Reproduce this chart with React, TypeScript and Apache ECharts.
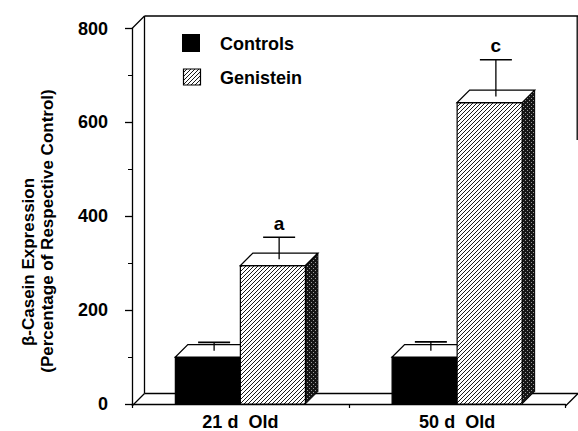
import React, { useEffect, useRef } from "react";
import * as echarts from "echarts";

// ---------- data ----------
const categories = ["21 d  Old", "50 d  Old"];
const seriesNames = ["Controls", "Genistein"];
const controlsValues = [100, 100];
const controlsErrors = [18, 19];
const genisteinValues = [295, 642];
const genisteinErrors = [47, 78];
const genisteinLetters = ["a", "c"];
const yMin = 0;
const yMax = 800;
const yInterval = 200;
const yTitleLine1 = "\u03b2-Casein Expression";
const yTitleLine2 = "(Percentage of Respective Control)";

// ---------- layout ----------
const W = 578;
const H = 431;
const GRID = { left: 132, right: 12.5, top: 28.5, bottom: 25 };
const DEPTH = 12.5;
const FONT = '"Liberation Sans", Arial, Helvetica, sans-serif';

function makeHatch(): string {
  const c = document.createElement("canvas");
  c.width = 4;
  c.height = 4;
  const ctx = c.getContext("2d")!;
  ctx.fillStyle = "#fff";
  ctx.fillRect(0, 0, 4, 4);
  ctx.strokeStyle = "#000";
  ctx.lineWidth = 0.9;
  ctx.beginPath();
  ctx.moveTo(-1, 5);
  ctx.lineTo(5, -1);
  ctx.moveTo(-1, 1);
  ctx.lineTo(1, -1);
  ctx.moveTo(3, 5);
  ctx.lineTo(5, 3);
  ctx.stroke();
  return c.toDataURL();
}

function makeStipple(): string {
  const c = document.createElement("canvas");
  c.width = 4;
  c.height = 4;
  const ctx = c.getContext("2d")!;
  ctx.fillStyle = "#151515";
  ctx.fillRect(0, 0, 4, 4);
  ctx.fillStyle = "#9a9a9a";
  ctx.fillRect(1, 0, 1, 1);
  ctx.fillRect(3, 2, 1, 1);
  return c.toDataURL();
}

export default function App() {
  const ref = useRef<HTMLDivElement>(null);

  useEffect(() => {
    if (!ref.current) return;
    const chart = echarts.init(ref.current, null, { renderer: "svg" });

    const hatch = { image: makeHatch(), repeat: "repeat", imageWidth: 4, imageHeight: 4 };
    const stipple = { image: makeStipple(), repeat: "repeat", imageWidth: 4, imageHeight: 4 };

    const makeRender =
      (side: number, frontFill: any, letters: string[] | null) => (params: any, api: any) => {
        const c = api.value(0);
        const v = api.value(1);
        const e = api.value(2);
        const base = api.coord([c, 0]);
        const top = api.coord([c, v]);
        const errTop = api.coord([c, v + e]);
        const band = api.size([1, 0])[0];
        const bw = band * 0.3;
        const x0 = side === 0 ? base[0] - bw : base[0];
        const x1 = x0 + bw;
        const y0 = base[1];
        const yv = top[1];
        const D = DEPTH;
        const children: any[] = [];
        children.push({
          type: "polygon",
          shape: { points: [[x1, yv], [x1 + D, yv - D], [x1 + D, y0 - D], [x1, y0]] },
          style: { fill: stipple, stroke: "#000", lineWidth: 1 },
        });
        children.push({
          type: "rect",
          shape: { x: x0, y: yv, width: bw, height: y0 - yv },
          style: { fill: frontFill, stroke: "#000", lineWidth: 1.2 },
        });
        children.push({
          type: "polygon",
          shape: { points: [[x0, yv], [x1, yv], [x1 + D, yv - D], [x0 + D, yv - D]] },
          style: { fill: "#fff", stroke: "#000", lineWidth: 1.3 },
        });
        const ex = (x0 + x1) / 2 + D / 2;
        const ey = yv - D / 2;
        const ecap = errTop[1] - D / 2;
        children.push({
          type: "line",
          shape: { x1: ex, y1: ey, x2: ex, y2: ecap },
          style: { stroke: "#000", lineWidth: 1.3 },
        });
        children.push({
          type: "line",
          shape: { x1: ex - 16, y1: ecap, x2: ex + 16, y2: ecap },
          style: { stroke: "#000", lineWidth: 1.6 },
        });
        if (letters && letters[c]) {
          children.push({
            type: "text",
            style: {
              x: ex,
              y: ecap - 14,
              text: letters[c],
              align: "center",
              verticalAlign: "middle",
              font: `bold 19px ${FONT}`,
              fill: "#000",
            },
          });
        }
        return { type: "group", children };
      };

    const L = GRID.left;
    const R = W - GRID.right;
    const T = GRID.top;
    const B = H - GRID.bottom;
    const D = DEPTH;
    const lineStyle = { stroke: "#000", lineWidth: 1.3 };

    const frame = [
      { type: "line", shape: { x1: L, y1: T, x2: L + D, y2: T - D } },
      { type: "line", shape: { x1: L + D, y1: T - D, x2: R + D, y2: T - D } },
      { type: "line", shape: { x1: L + D, y1: T - D, x2: L + D, y2: B - D } },
      { type: "line", shape: { x1: L + D, y1: B - D, x2: R + D, y2: B - D } },
      { type: "line", shape: { x1: L, y1: B, x2: L + D, y2: B - D } },
      { type: "line", shape: { x1: R, y1: B, x2: R + D, y2: B - D } },
      { type: "line", shape: { x1: R + D - 0.8, y1: T - D, x2: R + D - 0.8, y2: 140 } },
    ].map((g) => ({ ...g, z: 0, silent: true, style: lineStyle }));

    const legend = [
      { type: "rect", shape: { x: 182, y: 34, width: 18, height: 18 }, style: { fill: "#000" } },
      {
        type: "text",
        style: { x: 220, y: 44, text: seriesNames[0], font: `bold 18px ${FONT}`, fill: "#000", verticalAlign: "middle" },
      },
      {
        type: "rect",
        shape: { x: 183.5, y: 69, width: 17, height: 16 },
        style: { fill: hatch, stroke: "#000", lineWidth: 1.2 },
      },
      {
        type: "text",
        style: { x: 220, y: 77.5, text: seriesNames[1], font: `bold 18px ${FONT}`, fill: "#000", verticalAlign: "middle" },
      },
      {
        type: "text",
        x: 28,
        y: 262,
        rotation: Math.PI / 2,
        style: { x: 0, y: 0, text: yTitleLine1, font: `bold 17px ${FONT}`, fill: "#000", align: "center", verticalAlign: "middle" },
      },
      {
        type: "text",
        x: 47,
        y: 231,
        rotation: Math.PI / 2,
        style: { x: 0, y: 0, text: yTitleLine2, font: `bold 17px ${FONT}`, fill: "#000", align: "center", verticalAlign: "middle" },
      },
    ].map((g) => ({ ...g, z: 10 }));

    chart.setOption({
      animation: false,
      backgroundColor: "#fff",
      grid: { left: GRID.left, right: GRID.right, top: GRID.top, bottom: GRID.bottom, containLabel: false },
      xAxis: {
        type: "category",
        data: categories,
        boundaryGap: true,
        axisLine: { show: true, lineStyle: { color: "#000", width: 1.3 } },
        axisTick: { show: true, length: 4, lineStyle: { color: "#000", width: 1.2 } },
        axisLabel: { color: "#000", fontFamily: FONT, fontWeight: "bold", fontSize: 18, margin: 9 },
        splitLine: { show: false },
      },
      yAxis: {
        type: "value",
        min: yMin,
        max: yMax,
        interval: yInterval,
        axisLine: { show: true, lineStyle: { color: "#000", width: 1.3 } },
        axisTick: { show: true, length: 7, lineStyle: { color: "#000", width: 1.3 } },
        minorTick: { show: true, splitNumber: 2, length: 4, lineStyle: { color: "#000", width: 1 } },
        axisLabel: { color: "#000", fontFamily: FONT, fontWeight: "bold", fontSize: 18, margin: 24 },
        splitLine: { show: false },
      },
      graphic: [...frame, ...legend],
      series: [
        {
          name: seriesNames[0],
          type: "custom",
          z: 2,
          clip: false,
          renderItem: makeRender(0, "#000", null),
          encode: { x: 0, y: 1 },
          data: controlsValues.map((v, i) => [i, v, controlsErrors[i]]),
        },
        {
          name: seriesNames[1],
          type: "custom",
          z: 3,
          clip: false,
          renderItem: makeRender(1, hatch, genisteinLetters),
          encode: { x: 0, y: 1 },
          data: genisteinValues.map((v, i) => [i, v, genisteinErrors[i]]),
        },
      ],
    });

    return () => chart.dispose();
  }, []);

  return <div ref={ref} style={{ width: W, height: H, position: "absolute", left: 0, top: 0 }} />;
}
